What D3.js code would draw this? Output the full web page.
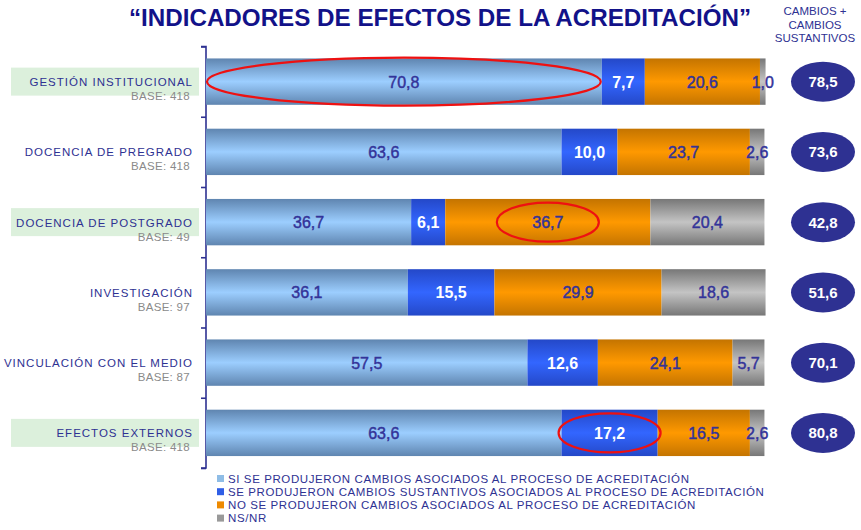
<!DOCTYPE html>
<html>
<head>
<meta charset="utf-8">
<script src="https://cdnjs.cloudflare.com/ajax/libs/d3/7.8.5/d3.min.js"></script>
<style>
  html, body { margin: 0; padding: 0; background: #fff; }
  svg { display: block; }
</style>
</head>
<body>
<svg id="chart" width="861" height="530"></svg>
<script>
const categories = ["GESTIÓN INSTITUCIONAL", "DOCENCIA DE PREGRADO", "DOCENCIA DE POSTGRADO", "INVESTIGACIÓN", "VINCULACIÓN CON EL MEDIO", "EFECTOS EXTERNOS"];
const bases = ["BASE: 418", "BASE: 418", "BASE: 49", "BASE: 97", "BASE: 87", "BASE: 418"];
const highlighted = [true, false, true, false, false, true];
const seriesNames = [
  "SI SE PRODUJERON CAMBIOS ASOCIADOS AL PROCESO DE ACREDITACIÓN",
  "SE PRODUJERON CAMBIOS SUSTANTIVOS ASOCIADOS AL PROCESO DE ACREDITACIÓN",
  "NO SE PRODUJERON CAMBIOS ASOCIADOS AL PROCESO DE ACREDITACIÓN",
  "NS/NR"
];
const siCambios      = [70.8, 63.6, 36.7, 36.1, 57.5, 63.6];
const sustantivos    = [7.7, 10.0, 6.1, 15.5, 12.6, 17.2];
const noCambios      = [20.6, 23.7, 36.7, 29.9, 24.1, 16.5];
const nsnr           = [1.0, 2.6, 20.4, 18.6, 5.7, 2.6];
const totals         = [78.5, 73.6, 42.8, 51.6, 70.1, 80.8];
const circled = [[0, 0], [2, 2], [5, 1]]; // [row, series]

const title = "“INDICADORES DE EFECTOS DE LA ACREDITACIÓN”";
const sideHeader = ["CAMBIOS +", "CAMBIOS", "SUSTANTIVOS"];

const navy = "#2e3192";
const svg = d3.select("#chart");
const defs = svg.append("defs");

const palettes = [
  ["#5f85b0", "#9cceff", "#5f85b0"],
  ["#2448c8", "#3366ff", "#2448c8"],
  ["#c47400", "#ff9900", "#c47400"],
  ["#777777", "#c4c4c4", "#777777"]
];
palettes.forEach((p, i) => {
  const g = defs.append("linearGradient").attr("id", "g" + i)
    .attr("x1", 0).attr("y1", 0).attr("x2", 0).attr("y2", 1);
  g.append("stop").attr("offset", "0%").attr("stop-color", p[0]);
  g.append("stop").attr("offset", "50%").attr("stop-color", p[1]);
  g.append("stop").attr("offset", "100%").attr("stop-color", p[2]);
});
const legendColors = ["#8fbde6", "#2f5ee6", "#ee8a00", "#999999"];
const labelColors = ["#333399", "#ffffff", "#333399", "#333399"];

const x = d3.scaleLinear().domain([0, 100]).range([206, 765]);
const y = d3.scaleBand().domain(categories).range([46.5, 468]).paddingInner(0.34).paddingOuter(0.17);

const data = categories.map((c, i) => ({ cat: c, vals: [siCambios[i], sustantivos[i], noCambios[i], nsnr[i]] }));
const stacked = data.map(d => {
  let acc = 0;
  return d.vals.map((v, k) => { const s = { cat: d.cat, k, v, x0: acc, x1: acc + v }; acc += v; return s; });
});

// Title
svg.append("text").attr("x", 440).attr("y", 26).attr("text-anchor", "middle")
  .attr("font-family", "'Liberation Sans', Arial, sans-serif")
  .attr("font-weight", "bold").attr("font-size", 24).attr("fill", "#121289")
  .attr("textLength", 622).attr("lengthAdjust", "spacingAndGlyphs")
  .text(title);

// Side header
svg.selectAll(".sh").data(sideHeader).enter().append("text")
  .attr("x", 815).attr("y", (d, i) => 15 + i * 13.5).attr("text-anchor", "middle")
  .attr("font-family", "'Liberation Sans', Arial, sans-serif")
  .attr("font-size", 11.5).attr("fill", navy)
  .text(d => d);

// Highlight boxes
categories.forEach((c, i) => {
  if (highlighted[i]) {
    svg.append("rect").attr("x", 11).attr("y", y(c) + y.bandwidth() / 2 - 14)
      .attr("width", 188).attr("height", 28).attr("fill", "#dcf0dc");
  }
});

// Category labels
const catG = svg.append("g");
categories.forEach((c, i) => {
  const cy = y(c) + y.bandwidth() / 2;
  catG.append("text").attr("x", 193).attr("y", cy + 4.5).attr("text-anchor", "end")
    .attr("font-family", "'Liberation Sans', Arial, sans-serif").attr("font-size", 11.5)
    .attr("letter-spacing", 1.0).attr("fill", navy).text(c);
  catG.append("text").attr("x", 190).attr("y", cy + 18.5).attr("text-anchor", "end")
    .attr("font-family", "'Liberation Sans', Arial, sans-serif").attr("font-size", 11.5)
    .attr("letter-spacing", 0.3).attr("fill", "#8a8a8a").text(bases[i]);
});

// Axis
const axis = d3.axisLeft(d3.scaleLinear().domain([0, 6]).range([y.range()[0], y.range()[1]]))
  .ticks(6).tickSize(5).tickFormat("");
const ag = svg.append("g").attr("transform", "translate(206,0)").call(axis);
ag.selectAll("path, line").attr("stroke", navy).attr("stroke-width", 1.6);
ag.select(".domain").attr("d", `M-5,${y.range()[0]}H0V${y.range()[1]}H-5`);

// Bars
const rows = svg.append("g").selectAll("g").data(stacked).enter().append("g");
rows.selectAll("rect").data(d => d).enter().append("rect")
  .attr("x", d => x(d.x0)).attr("width", d => x(d.x1) - x(d.x0))
  .attr("y", d => y(d.cat)).attr("height", y.bandwidth())
  .attr("fill", d => `url(#g${d.k})`);

// Value labels
rows.selectAll("text").data(d => d).enter().append("text")
  .attr("x", d => (x(d.x0) + x(d.x1)) / 2)
  .attr("y", d => y(d.cat) + y.bandwidth() / 2 + 6)
  .attr("text-anchor", "middle")
  .attr("font-family", "'Liberation Sans', Arial, sans-serif")
  .attr("font-size", 16).attr("font-weight", d => d.k === 1 ? "bold" : "normal")
  .attr("fill", d => labelColors[d.k])
  .attr("stroke", d => d.k === 1 ? "none" : "#333399").attr("stroke-width", 0.45)
  .text(d => d.v.toFixed(1).replace(".", ","));

// Red ellipses
circled.forEach(([r, k]) => {
  const s = stacked[r][k];
  const cx = (x(s.x0) + x(s.x1)) / 2;
  const w = x(s.x1) - x(s.x0);
  const rx = r === 0 ? w / 2 - 1 : 51;
  svg.append("ellipse").attr("cx", cx).attr("cy", y(s.cat) + y.bandwidth() / 2)
    .attr("rx", rx).attr("ry", r === 0 ? 24 : 19.5)
    .attr("fill", "none").attr("stroke", "#ee1111").attr("stroke-width", 2.2);
});

// Total ellipses
categories.forEach((c, i) => {
  const cy = y(c) + y.bandwidth() / 2;
  svg.append("ellipse").attr("cx", 823).attr("cy", cy).attr("rx", 32).attr("ry", 20).attr("fill", navy);
  svg.append("text").attr("x", 823).attr("y", cy + 5.5).attr("text-anchor", "middle")
    .attr("font-family", "'Liberation Sans', Arial, sans-serif").attr("font-weight", "bold")
    .attr("font-size", 15).attr("fill", "#fff").text(totals[i].toFixed(1).replace(".", ","));
});

// Legend
const lg = svg.append("g");
seriesNames.forEach((s, i) => {
  const ly = 482.5 + i * 13.2;
  lg.append("rect").attr("x", 217).attr("y", ly - 7.5).attr("width", 7).attr("height", 7).attr("fill", legendColors[i]);
  lg.append("text").attr("x", 228).attr("y", ly).attr("font-family", "'Liberation Sans', Arial, sans-serif")
    .attr("font-size", 11.5).attr("letter-spacing", 0.6).attr("fill", navy).text(s);
});
</script>
</body>
</html>
